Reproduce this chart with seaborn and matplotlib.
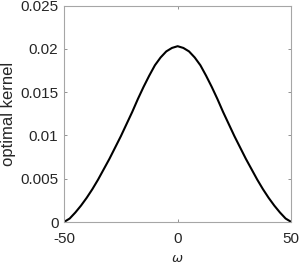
import matplotlib
matplotlib.use("Agg")
import matplotlib.pyplot as plt
import seaborn as sns
import pandas as pd

# data (kernel is symmetric about 0)
omega_pos = [0, 2.5, 5, 7.5, 10, 12.5, 15, 17.5, 20, 22.5, 25, 27.5, 30,
             32.5, 35, 37.5, 40, 42.5, 45, 47.5, 50]
kernel_pos = [0.0203, 0.0201, 0.0197, 0.0190, 0.0181, 0.0169, 0.0156, 0.0142,
              0.0127, 0.0113, 0.0099, 0.0086, 0.0073, 0.0061, 0.0049, 0.0038,
              0.0028, 0.0019, 0.0011, 0.0004, 0.0]
omega = [-w for w in omega_pos[:0:-1]] + omega_pos
kernel = kernel_pos[:0:-1] + kernel_pos

xticks = [-50, 0, 50]
xticklabels = ["-50", "0", "50"]
yticks = [0, 0.005, 0.01, 0.015, 0.02, 0.025]
yticklabels = ["0", "0.005", "0.01", "0.015", "0.02", "0.025"]

sns.set_style("white")
plt.rcParams["font.family"] = ["Liberation Sans", "DejaVu Sans"]

fig = plt.figure(figsize=(3.0, 2.65), dpi=100)
ax = fig.add_axes([64 / 300, 1 - 222 / 265, (291.3 - 64) / 300, (222 - 5.5) / 265])

df = pd.DataFrame({"omega": omega, "kernel": kernel})
sns.lineplot(data=df, x="omega", y="kernel", ax=ax, color="black", linewidth=1.5)

ax.set_xlim(-50, 50)
ax.set_ylim(0, 0.025)
ax.set_xticks(xticks)
ax.set_xticklabels(xticklabels)
ax.set_yticks(yticks)
ax.set_yticklabels(yticklabels)

axis_col = "#a6a6a6"
for s in ax.spines.values():
    s.set_visible(True)
    s.set_color(axis_col)
    s.set_linewidth(0.8)
ax.tick_params(direction="in", length=2.5, width=0.6, color="#808080",
               labelsize=11, labelcolor="#262626", top=True, right=True,
               bottom=True, left=True)
ax.tick_params(axis="x", pad=7)
ax.tick_params(axis="y", pad=4)

ax.set_ylabel("optimal kernel", fontsize=12, color="#262626", labelpad=3)
ax.set_xlabel(r"$\omega$", fontsize=9.5, color="#262626", labelpad=5)

fig.savefig("out.png", dpi=100)
